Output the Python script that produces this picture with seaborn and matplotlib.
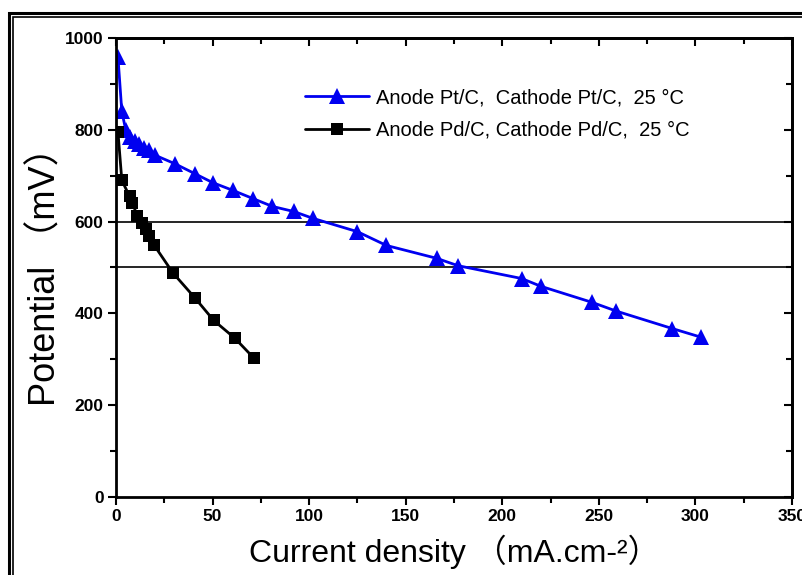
import pandas as pd
import matplotlib.pyplot as plt
import seaborn as sns
from matplotlib.patches import Rectangle
from matplotlib.ticker import MultipleLocator

sns.set_style("ticks")
plt.rcParams['font.family'] = ['Liberation Sans', 'Noto Sans CJK SC', 'DejaVu Sans']
plt.rcParams['text.color'] = 'black'
plt.rcParams['axes.labelcolor'] = 'black'
plt.rcParams['xtick.color'] = 'black'
plt.rcParams['ytick.color'] = 'black'
plt.rcParams['axes.edgecolor'] = 'black'

# Data
pt_current = [1, 3, 5, 7, 10, 12, 14.5, 17, 20, 30.5, 41, 50, 60.5, 71, 81, 92, 102,
              125, 140, 166, 177, 210, 220, 246.5, 259, 288, 303]
pt_potential = [958, 840, 800, 785, 775, 768, 760, 756, 745, 726, 704, 685, 668, 650, 633,
                622, 607, 578, 548, 520, 504, 476, 459, 424, 405, 367, 348]

pd_current = [1, 3, 7, 8.5, 11, 13.5, 15.5, 17, 19.5, 29.5, 41, 50.5, 61.5, 71.5]
pd_potential = [795, 690, 655, 640, 613, 598, 583, 568, 550, 488, 433, 385, 346, 302]

pt_label = 'Anode Pt/C,  Cathode Pt/C,  25 °C'
pd_label = 'Anode Pd/C, Cathode Pd/C,  25 °C'
ref_levels = [600, 500]

df_pt = pd.DataFrame({'current': pt_current, 'potential': pt_potential})
df_pd = pd.DataFrame({'current': pd_current, 'potential': pd_potential})

fig = plt.figure(figsize=(8.03, 5.75), dpi=100)
ax = fig.add_axes([0.1445, 0.1357, 0.8418, 0.7982])

sns.lineplot(data=df_pt, x='current', y='potential', ax=ax, color='#0000f0',
             marker='^', markersize=11, markeredgewidth=0, linewidth=2,
             estimator=None, label=pt_label)
sns.lineplot(data=df_pd, x='current', y='potential', ax=ax, color='black',
             marker='s', markersize=9, markeredgewidth=0, linewidth=2,
             estimator=None, label=pd_label)

for lvl in ref_levels:
    ax.axhline(lvl, color='black', linewidth=1.2, zorder=1)

ax.set_xlim(0, 350)
ax.set_ylim(0, 1000)
ax.xaxis.set_major_locator(MultipleLocator(50))
ax.xaxis.set_minor_locator(MultipleLocator(25))
ax.yaxis.set_major_locator(MultipleLocator(200))
ax.yaxis.set_minor_locator(MultipleLocator(100))
ax.tick_params(which='major', direction='out', length=6, width=1.5,
               labelsize=12.5, pad=3)
ax.tick_params(which='minor', direction='out', length=4, width=1.5)
for lab in ax.get_xticklabels() + ax.get_yticklabels():
    lab.set_fontweight('bold')

# mirrored ticks on top and right, pointing inward
top = ax.secondary_xaxis('top')
top.xaxis.set_major_locator(MultipleLocator(50))
top.xaxis.set_minor_locator(MultipleLocator(25))
top.tick_params(which='major', direction='in', length=6, width=1.5, labeltop=False)
top.tick_params(which='minor', direction='in', length=4, width=1.5)
right = ax.secondary_yaxis('right')
right.yaxis.set_major_locator(MultipleLocator(200))
right.yaxis.set_minor_locator(MultipleLocator(100))
right.tick_params(which='major', direction='in', length=6, width=1.5, labelright=False)
right.tick_params(which='minor', direction='in', length=4, width=1.5)
for sec in (top, right):
    for sp in sec.spines.values():
        sp.set_linewidth(2)

for sp in ax.spines.values():
    sp.set_linewidth(2)
    sp.set_visible(True)

ax.set_xlabel('Current density （mA.cm-²）', fontsize=23, labelpad=7)
ax.set_ylabel('Potential （mV）', fontsize=26, labelpad=1)

ax.legend(loc='upper left', bbox_to_anchor=(0.2796, 0.890), frameon=False,
          fontsize=14.5, handlelength=3.2, handletextpad=0.3, labelspacing=0.65,
          borderpad=0, borderaxespad=0)

# double frame around the figure (cropped at right and bottom)
fig.add_artist(Rectangle((9 / 803, -0.1), 1.2, 1 - 13 / 575 + 0.1,
                         transform=fig.transFigure, fill=False,
                         edgecolor='black', linewidth=2.2))
fig.add_artist(Rectangle((13 / 803, -0.1), 1.2, 1 - 17 / 575 + 0.1,
                         transform=fig.transFigure, fill=False,
                         edgecolor='black', linewidth=1.2))

plt.savefig('out.png', dpi=100)
